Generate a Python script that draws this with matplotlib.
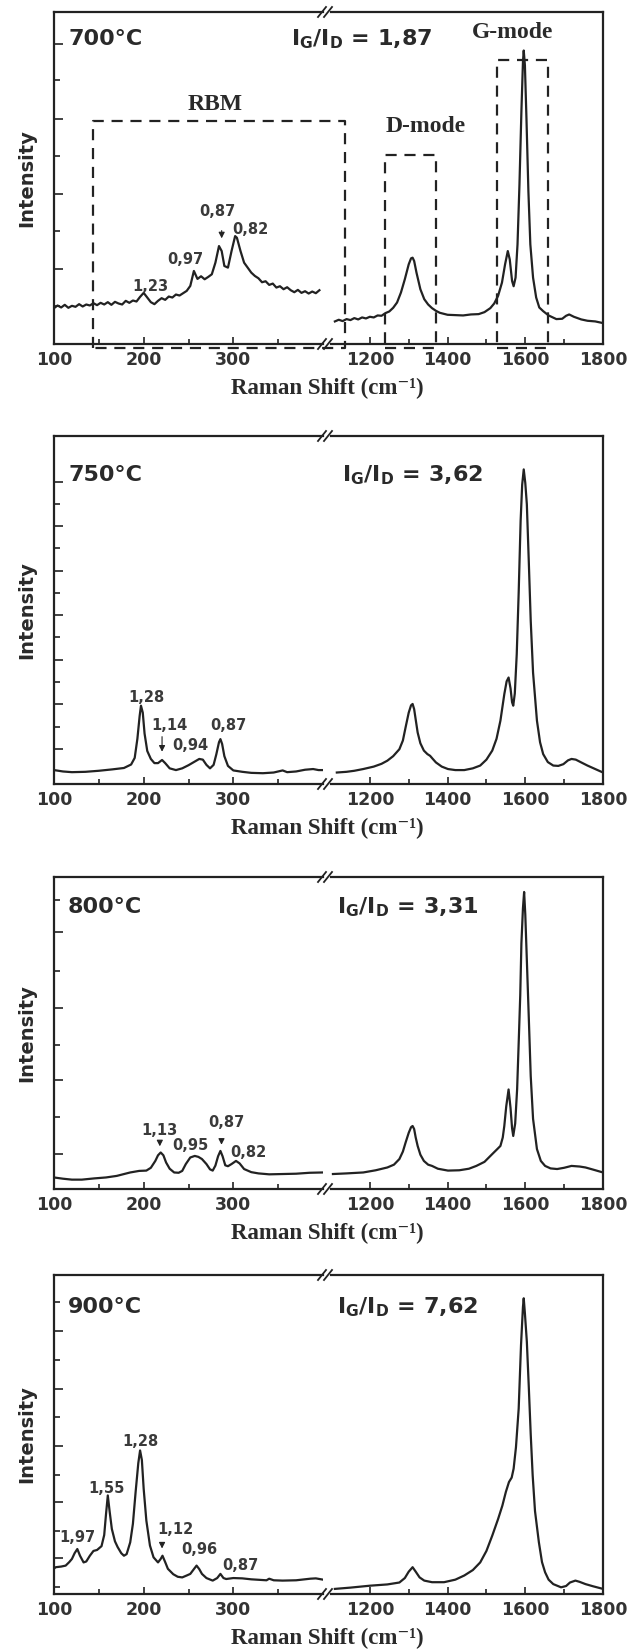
import matplotlib
matplotlib.use('Agg')
import matplotlib.pyplot as plt
from matplotlib.lines import Line2D
from matplotlib.patches import Rectangle

# ---- spectra: x in cm^-1, y in % of panel height ----
rbm700_x = [100, 104, 108, 112, 116, 120, 124, 128, 132, 136, 140, 144, 148, 152, 156, 160, 164, 168, 172, 176,
            180, 184, 188, 192, 196, 200, 204, 208, 212, 216, 220, 224, 228, 232, 236, 240, 244, 248, 252, 256,
            260, 264, 268, 272, 276, 280, 284, 287, 290, 294, 298, 302, 304, 308, 312, 316, 320, 324, 328, 332,
            336, 340, 344, 348, 352, 356, 360, 364, 368, 372, 376, 380, 384, 388, 392, 396]
rbm700_y = [10.8, 11.6, 11.0, 11.8, 10.9, 11.5, 11.2, 12.0, 11.3, 11.9, 11.6, 12.3, 11.7, 12.4, 11.9, 12.6, 11.8,
            12.7, 12.2, 11.9, 13.0, 12.4, 13.1, 12.8, 14.2, 15.4, 14.0, 12.6, 12.0, 13.0, 13.8, 13.3, 14.3, 14.0,
            14.9, 14.6, 15.3, 16.0, 17.5, 22.0, 19.6, 20.4, 19.5, 20.2, 21.0, 24.5, 29.5, 28.0, 23.5, 23.0, 28.0,
            32.5, 32.0, 28.0, 24.5, 23.0, 21.5, 20.5, 19.8, 18.6, 18.9, 17.8, 18.2, 17.0, 17.4, 16.5, 17.1, 16.2,
            15.6, 16.3, 15.4, 15.9, 15.2, 15.8, 15.3, 16.2]
hf700_x = [1110, 1120, 1130, 1140, 1150, 1160, 1170, 1180, 1190, 1200, 1210, 1220, 1230, 1240, 1250, 1260, 1270,
           1280, 1290, 1300, 1306, 1310, 1314, 1320, 1330, 1340, 1350, 1360, 1370, 1380, 1390, 1400, 1420, 1440,
           1460, 1480, 1495, 1510, 1520, 1530, 1540, 1548, 1555, 1560, 1566, 1570, 1575, 1580, 1585, 1590, 1594,
           1596, 1599, 1603, 1608, 1613, 1620, 1628, 1636, 1646, 1660, 1680, 1695, 1705, 1713, 1725, 1744, 1760,
           1780, 1800]
hf700_y = [6.8, 7.3, 6.9, 7.5, 7.2, 7.8, 7.4, 8.0, 7.7, 8.2, 8.0, 8.6, 8.5, 9.3, 9.8, 10.9, 12.5, 15.5, 19.5, 24.0,
           25.8, 26.0, 25.0, 21.5, 16.5, 13.5, 11.9, 10.8, 10.0, 9.4, 9.1, 8.8, 8.7, 8.6, 8.9, 9.0, 9.6, 10.8, 12.2,
           14.5, 18.5, 24.0, 28.0, 25.5, 19.0, 17.4, 20.0, 30.0, 48.0, 70.0, 85.0, 88.4, 84.0, 68.0, 46.0, 30.0,
           20.0, 14.0, 11.0, 9.9, 8.6, 7.5, 7.6, 8.5, 8.9, 8.2, 7.4, 7.0, 6.8, 6.3]

rbm750_x = [100, 110, 120, 135, 150, 165, 178, 186, 190, 193, 195.5, 197, 199, 201, 204, 208, 212, 216, 220.5,
            224, 229, 236, 243, 250, 256, 262, 266, 270, 274, 278, 281, 284, 285.6, 287.5, 290, 294, 300, 310,
            320, 333, 345, 355, 360, 370, 380, 389, 395, 402]
rbm750_y = [4.0, 3.6, 3.4, 3.5, 3.8, 4.2, 4.6, 5.6, 7.5, 13.0, 19.5, 22.5, 20.5, 14.5, 9.5, 7.2, 6.0, 6.0, 6.9,
            6.0, 4.5, 4.0, 4.5, 5.4, 6.3, 7.2, 7.0, 5.5, 4.5, 5.5, 8.5, 12.0, 12.9, 11.5, 8.0, 5.2, 3.9, 3.5,
            3.2, 3.1, 3.3, 3.9, 3.4, 3.6, 4.1, 4.3, 4.0, 4.0]
hf750_x = [1115, 1140, 1160, 1183, 1210, 1230, 1245, 1260, 1276, 1285, 1292, 1300, 1306, 1310, 1314, 1318, 1323,
           1330, 1339, 1348, 1355, 1362, 1370, 1385, 1401, 1420, 1443, 1465, 1484, 1500, 1515, 1526, 1536, 1546,
           1552, 1557, 1562, 1566, 1569, 1573, 1578, 1583, 1588, 1592, 1596, 1600, 1604, 1609, 1614, 1620, 1630,
           1638, 1646, 1658, 1672, 1685, 1698, 1710, 1719, 1730, 1744, 1760, 1780, 1800]
hf750_y = [3.3, 3.5, 3.8, 4.3, 5.0, 5.8, 6.7, 8.0, 10.0, 12.5, 16.3, 20.5, 22.6, 23.0, 21.5, 18.5, 14.8, 11.7, 9.6,
           8.6, 8.1, 7.2, 6.2, 5.0, 4.3, 4.0, 4.0, 4.5, 5.3, 7.0, 9.6, 13.0, 18.2, 25.8, 29.5, 30.6, 27.5, 23.5,
           22.5, 26.0, 37.3, 55.0, 75.6, 86.0, 90.4, 86.5, 80.4, 64.0, 46.9, 32.0, 18.2, 12.0, 8.6, 6.3, 5.3, 5.2,
           5.7, 6.8, 7.2, 7.0, 6.2, 5.3, 4.3, 3.3]

rbm800_x = [100, 110, 120, 131, 145, 158, 170, 185, 195, 203, 208, 213, 216, 219, 222, 225, 229, 234, 239, 243,
            247, 252, 257, 261, 265, 270, 274, 277, 280, 283, 285.6, 288, 291, 294, 298, 303, 307, 312, 320, 328,
            340, 355, 370, 385, 400]
rbm800_y = [3.7, 3.3, 3.0, 3.0, 3.4, 3.7, 4.2, 5.3, 5.8, 5.9, 6.8, 9.0, 10.8, 11.7, 10.8, 8.5, 6.5, 5.3, 5.2, 5.8,
            8.0, 10.1, 10.6, 10.3, 9.6, 8.0, 6.3, 5.9, 7.5, 10.5, 12.2, 10.5, 7.6, 7.3, 8.0, 9.0, 8.2, 6.4, 5.4,
            5.0, 4.7, 4.8, 4.9, 5.2, 5.3]
hf800_x = [1105, 1140, 1183, 1215, 1245, 1262, 1276, 1285, 1292, 1300, 1306, 1310, 1314, 1318, 1323, 1330, 1339,
           1350, 1360, 1375, 1401, 1430, 1455, 1474, 1495, 1515, 1528, 1536, 1542, 1546, 1551, 1557, 1562, 1566,
           1569, 1574, 1579, 1583, 1587, 1590, 1594, 1597, 1600, 1604, 1609, 1614, 1620, 1630, 1640, 1651, 1665,
           1682, 1700, 1719, 1740, 1755, 1775, 1800]
hf800_y = [4.8, 5.0, 5.3, 6.0, 6.9, 7.8, 9.6, 12.0, 14.9, 18.0, 19.8, 20.2, 19.2, 16.5, 13.8, 11.0, 9.0, 7.8, 7.4,
           6.5, 5.9, 6.0, 6.5, 7.4, 8.7, 11.2, 12.8, 13.8, 16.5, 20.2, 26.5, 31.9, 26.0, 19.5, 17.0, 21.0, 32.0,
           46.8, 62.0, 78.7, 90.0, 95.2, 88.0, 73.4, 55.0, 36.2, 22.5, 12.8, 9.0, 7.4, 6.6, 6.4, 6.8, 7.4, 7.2,
           6.9, 6.2, 5.3]

rbm900_x = [100, 102, 108, 113, 117, 120, 123, 126, 129, 133, 136, 140, 144, 148, 153, 156, 158, 160, 162, 164.5,
            168, 171, 175, 178, 181, 185, 188, 191, 194, 196, 198, 200, 203, 207, 211, 216, 219, 221, 224, 227,
            233, 238, 243, 248, 252, 256, 259, 262, 265, 270, 277, 282, 285.6, 289, 292, 300, 310, 320, 337, 340,
            345, 355, 370, 386, 392, 400]
rbm900_y = [8.0, 8.4, 8.6, 8.9, 10.0, 11.0, 12.8, 14.1, 12.0, 9.9, 10.2, 12.0, 13.5, 13.8, 15.0, 18.5, 25.0, 30.9,
            26.0, 20.4, 16.5, 14.7, 12.8, 12.0, 12.5, 16.2, 22.0, 31.9, 41.0, 45.0, 42.0, 33.0, 23.0, 15.2, 11.5,
            9.9, 11.0, 12.0, 10.0, 7.9, 6.2, 5.4, 5.2, 5.8, 6.3, 7.8, 8.9, 7.8, 6.3, 5.0, 4.2, 5.0, 6.3, 5.0, 4.7,
            5.0, 4.9, 4.6, 4.3, 4.8, 4.3, 4.2, 4.3, 4.8, 4.9, 4.5]
hf900_x = [1110, 1150, 1200, 1245, 1276, 1290, 1300, 1310, 1318, 1328, 1340, 1360, 1391, 1420, 1443, 1465, 1484,
           1500, 1515, 1530, 1541, 1550, 1558, 1565, 1570, 1576, 1583, 1589, 1594, 1596, 1599, 1604, 1609, 1614,
           1619, 1625, 1635, 1643, 1651, 1660, 1672, 1692, 1705, 1715, 1729, 1740, 1755, 1775, 1800]
hf900_y = [1.6, 2.0, 2.6, 3.0, 3.6, 5.0, 7.0, 8.4, 7.0, 5.2, 4.2, 3.7, 3.7, 4.5, 5.8, 7.5, 9.9, 13.5, 18.3, 23.5,
           27.7, 32.0, 35.1, 36.5, 39.3, 46.0, 58.1, 78.0, 90.0, 92.7, 88.0, 79.1, 65.0, 50.0, 37.2, 26.0, 16.2,
           10.0, 6.8, 4.5, 3.1, 2.1, 2.5, 3.6, 4.2, 3.8, 3.1, 2.4, 1.6]

temps = ['700°C', '750°C', '800°C', '900°C']
ratios = ['1,87', '3,62', '3,31', '7,62']

# diameter labels (text, x, y%) and arrows (x, y from, y to)
notes700 = [('1,23', 207, 17.4), ('0,97', 247, 25.5), ('0,87', 282, 39.9), ('0,82', 319, 34.5)]
notes750 = [('1,28', 202.6, 24.9), ('1,14', 228.6, 16.7), ('0,94', 252, 11.0), ('0,87', 294.5, 16.7)]
notes800 = [('1,13', 218, 18.6), ('0,95', 252, 13.8), ('0,87', 292, 21.3), ('0,82', 317, 11.7)]
notes900 = [('1,97', 126, 17.8), ('1,55', 158.6, 33.0), ('1,28', 196, 47.9), ('1,12', 235, 20.2),
            ('0,96', 262, 14.1), ('0,87', 308, 8.9)]
arrows700 = [(287, 35.0, 31.0)]
arrows750 = [(220.5, 14.4, 8.5)]
arrows800 = [(218, 15.6, 12.8), (286.8, 16.8, 13.3)]
arrows900 = [(220.5, 16.8, 13.4)]

left_ticks = [100, 200, 300]
left_minor = [150, 250, 350]
right_ticks = [1200, 1400, 1600, 1800]
right_minor = [1300, 1500, 1700]

INK = '#222222'
W, H = 633, 1652
plt.rcParams['mathtext.fontset'] = 'dejavusans'

fig = plt.figure(figsize=(W / 100, H / 100), dpi=100)


def box(x0, x1, top, bot):
    return [x0 / W, 1 - bot / H, (x1 - x0) / W, (bot - top) / H]


def fig_line(xs, ys, **kw):
    fig.add_artist(Line2D([x / W for x in xs], [1 - y / H for y in ys], color=INK, **kw))


panels = [
    dict(top=12, bot=344, rbm=(rbm700_x, rbm700_y), hf=(hf700_x, hf700_y), notes=notes700, arrows=arrows700,
         ymaj=[22.5, 45.1, 67.8, 90.4], ymin=[11.4, 34.0, 56.7, 79.4], text_y=37, ratio_x=291),
    dict(top=436, bot=784, rbm=(rbm750_x, rbm750_y), hf=(hf750_x, hf750_y), notes=notes750, arrows=arrows750,
         ymaj=[10.1, 22.9, 35.7, 48.5, 61.3, 74.1, 86.9], ymin=[16.5, 29.3, 42.1, 54.9, 67.7, 80.5],
         text_y=473, ratio_x=342),
    dict(top=877, bot=1189, rbm=(rbm800_x, rbm800_y), hf=(hf800_x, hf800_y), notes=notes800, arrows=arrows800,
         ymaj=[11.3, 34.9, 58.1, 82.3], ymin=[23.1, 46.2, 69.9, 92.5], text_y=905, ratio_x=337),
    dict(top=1275, bot=1594, rbm=(rbm900_x, rbm900_y), hf=(hf900_x, hf900_y), notes=notes900, arrows=arrows900,
         ymaj=[11.2, 28.9, 46.5, 64.2, 82.4], ymin=[2.1, 19.8, 37.4, 55.6, 73.3, 91.4], text_y=1305, ratio_x=337),
]

axes_700 = None
for i, p in enumerate(panels):
    axl = fig.add_axes(box(54, 323, p['top'], p['bot']))
    axr = fig.add_axes(box(331, 603, p['top'], p['bot']))
    if i == 0:
        axes_700 = (axl, axr)
    for ax, (xs, ys), lim, maj, mnr in ((axl, p['rbm'], (100, 400), left_ticks, left_minor),
                                         (axr, p['hf'], (1100, 1800), right_ticks, right_minor)):
        ax.plot(xs, ys, color=INK, lw=1.6)
        ax.set_xlim(*lim)
        ax.set_ylim(0, 100)
        ax.set_xticks(maj, [str(t) for t in maj])
        ax.set_xticks(mnr, minor=True)
        for s in ax.spines.values():
            s.set_linewidth(1.6)
            s.set_color(INK)
        ax.tick_params(axis='x', which='both', direction='in', top=False, width=1.2, color=INK,
                       labelsize=12.5, pad=5, labelcolor='#333333')
        ax.tick_params(axis='x', which='major', length=5)
        ax.tick_params(axis='x', which='minor', length=3.5)
        for lab in ax.get_xticklabels():
            lab.set_fontweight('bold')
    axl.spines['right'].set_visible(False)
    axr.spines['left'].set_visible(False)
    axr.set_yticks([])
    axl.set_yticks(p['ymaj'], [''] * len(p['ymaj']))
    axl.set_yticks(p['ymin'], minor=True)
    axl.tick_params(axis='y', which='both', direction='in', right=False, width=1.2, color=INK)
    axl.tick_params(axis='y', which='major', length=6.5)
    axl.tick_params(axis='y', which='minor', length=4)

    # axis break marks
    for yb in (p['top'], p['bot']):
        for x0 in (318, 324):
            fig_line([x0, x0 + 8], [yb + 5, yb - 5], lw=1.3)

    # diameter labels and arrows
    for txt, x, y in p['notes']:
        axl.text(x, y, txt, ha='center', va='center', fontsize=10.5, fontweight='bold', color='#3a3a3a')
    for x, y0, y1 in p['arrows']:
        axl.annotate('', xy=(x, y1), xytext=(x, y0),
                     arrowprops=dict(arrowstyle='-|>,head_width=0.18,head_length=0.35', color=INK, lw=0.8))

    fig.text(68 / W, 1 - (p['text_y'] + 8) / H, temps[i], ha='left', va='baseline',
             fontsize=16, fontweight='bold', color='#2a2a2a')
    fig.text(p['ratio_x'] / W, 1 - (p['text_y'] + 8) / H,
             r'I$_\mathbf{G}$/I$_\mathbf{D}$ = ' + ratios[i], ha='left', va='baseline',
             fontsize=16, fontweight='bold', color='#2a2a2a')
    fig.text(27 / W, 1 - (p['top'] + p['bot']) / 2 / H, 'Intensity', rotation=90, ha='center', va='center',
             fontsize=14, fontweight='bold', color='#2a2a2a')
    fig.text(327 / W, 1 - (p['bot'] + 44) / H, 'Raman Shift (cm⁻¹)', ha='center', va='center',
             fontsize=16.5, fontweight='bold', color='#2a2a2a', family=['Liberation Serif', 'DejaVu Serif'])

# mode boxes of the 700 °C panel
axl, axr = axes_700
dash = dict(lw=1.6, ls=(0, (5, 3.5)), color=INK)
to_fig = fig.transFigure.inverted()
xl = to_fig.transform(axl.transData.transform((143, 0)))[0]
xr = to_fig.transform(axr.transData.transform((1136, 0)))[0]
yt = to_fig.transform(axl.transData.transform((100, 67.3)))[1]
yb = to_fig.transform(axl.transData.transform((100, -1.3)))[1]
fig.add_artist(Line2D([xl, xl, xr, xr, xl], [yb, yt, yt, yb, yb], **dash))
for x0, x1, ytop in ((1240, 1370, 57.0), (1526, 1659, 85.4)):
    axr.add_patch(Rectangle((x0, -1.3), x1 - x0, ytop + 1.3, fill=False, clip_on=False, **dash))

serif = ['Liberation Serif', 'DejaVu Serif']
fig.text(513 / W, 1 - 33 / H, 'G-mode', ha='center', va='center', fontsize=17, fontweight='bold',
         color='#2a2a2a', family=serif)
fig.text(426 / W, 1 - 127 / H, 'D-mode', ha='center', va='center', fontsize=17, fontweight='bold',
         color='#2a2a2a', family=serif)
fig.text(215 / W, 1 - 105 / H, 'RBM', ha='center', va='center', fontsize=17, fontweight='bold',
         color='#2a2a2a', family=serif)

fig.savefig('out.png', dpi=100)
